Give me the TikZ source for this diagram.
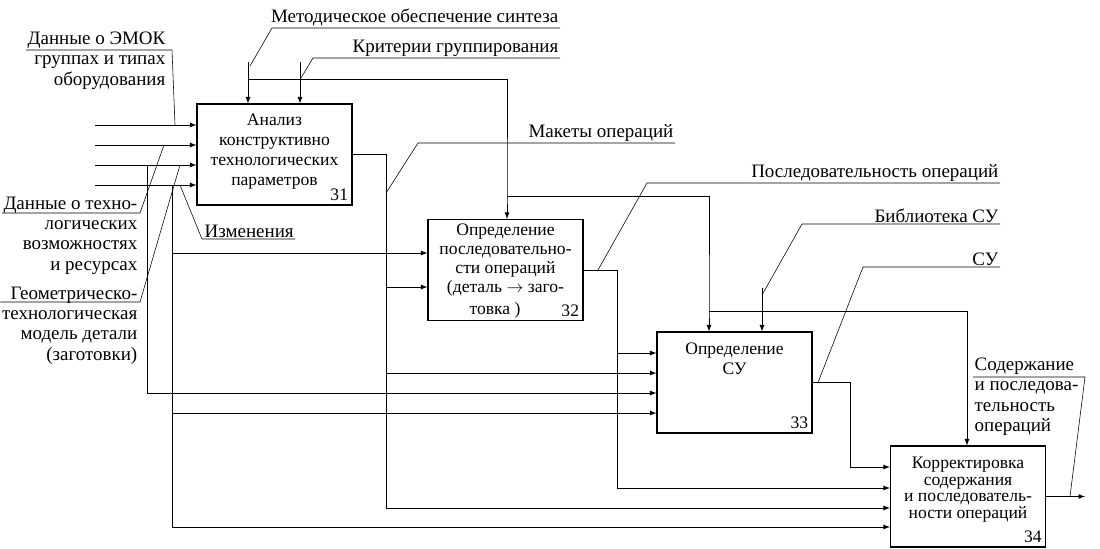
\documentclass[tikz,border=0pt]{standalone}
\usepackage{fontspec}
\setmainfont{Liberation Serif}
\usetikzlibrary{positioning,calc}
\tikzstyle{every node}=[font=\fontsize{13.5}{14.5}\selectfont]
\tikzstyle{func} = [rectangle, draw, thick, minimum width=38.75mm, minimum height=25.25mm, inner sep=0pt]
\tikzstyle{ftext} = [align=center, anchor=north, inner sep=1pt, font=\fontsize{12.5}{14.2}\selectfont]
\tikzstyle{num} = [anchor=south east, inner sep=3pt, font=\fontsize{12.5}{14.2}\selectfont]
\tikzstyle{arrow} = [semithick,->,>=latex]
\tikzstyle{lead} = [thin]
\tikzstyle{lab} = [inner sep=1pt]

\begin{document}
\begin{tikzpicture}[x=0.25mm,y=-0.25mm]
\useasboundingbox (0,0) rectangle (1100,548);

% blocks
\node (b31) [func] at (274.5,154.5) {};
\node (b32) [func] at (505.5,270) {};
\node (b33) [func] at (734.5,382.5) {};
\node (b34) [func] at (968,496.5) {};

\node (t31) [ftext, below=2.2mm of b31.north] {Анализ\\конструктивно\\технологических\\параметров};
\node (t32) [ftext, below=0.8mm of b32.north, font=\fontsize{12.5}{13.6}\selectfont] {Определение\\последовательно-\\сти операций\\(деталь $\rightarrow$ заго-};
\node (t33) [ftext, below=2.5mm of b33.north] {Определение\\СУ};
\node (t34) [ftext, below=2.5mm of b34.north, font=\fontsize{12.5}{11.8}\selectfont] {Корректировка\\содержания\\и последователь-\\ности операций};
\node (n31) [num] at (b31.south east) {31};
\node (n32) [num] at (b32.south east) {32};
\node (n33) [num] at (b33.south east) {33};
\node (n34) [num] at (b34.south east) {34};
\node (t32b) [num, left=8mm of n32.west, anchor=east] {товка )};

% inputs of 31
\coordinate (in1) at (95,125);
\coordinate (in2) at (95,145);
\coordinate (in3) at (95,165);
\coordinate (in4) at (95,185);
\draw[arrow] (in1) -- (in1 -| b31.west);
\draw[arrow] (in2) -- (in2 -| b31.west);
\draw[arrow] (in3) -- (in3 -| b31.west);
\draw[arrow] (in4) -- (in4 -| b31.west);

\coordinate (v3) at (147,165);
\coordinate (v3e) at (147,393);
\draw[arrow] (v3) -- (v3e) -- (v3e -| b33.west);
\coordinate (v4) at (172,185);
\coordinate (v4a) at (172,253);
\coordinate (v4b) at (172,413);
\coordinate (v4e) at (172,527);
\draw[arrow] (v4) -- (v4e) -- (v4e -| b34.west);
\draw[arrow] (v4a) -- (v4a -| b32.west);
\draw[arrow] (v4b) -- (v4b -| b33.west);

% outputs
\coordinate (o31) at (386,508);
\coordinate (o31a) at (386,287);
\coordinate (o31b) at (386,373);
\draw[arrow] (b31.east) -| (o31) -- (o31 -| b34.west);
\draw[arrow] (o31a) -- (o31a -| b32.west);
\draw[arrow] (o31b) -- (o31b -| b33.west);

\coordinate (o32) at (617,488);
\coordinate (o32a) at (617,353);
\draw[arrow] (b32.east) -| (o32) -- (o32 -| b34.west);
\draw[arrow] (o32a) -- (o32a -| b33.west);

\coordinate (o33) at (850,467);
\draw[arrow] (b33.east) -| (o33) -- (o33 -| b34.west);

\coordinate (out) at (1085,496.5);
\draw[arrow] (b34.east) -- (out);

% controls
\coordinate (m0) at (248,62);
\coordinate (m1) at (248,79);
\coordinate (m2) at (507,196);
\coordinate (m3) at (709,311);
\coordinate (m4) at (967,311);
\draw[arrow] (m0) -- (m0 |- b31.north);
\draw[arrow] (m1) -| (m2) -- (m2 |- b32.north);
\draw[arrow] (m2) -| (m3) -- (m3 |- b33.north);
\draw[arrow] (m3) -- (m4) -- (m4 |- b34.north);
\coordinate (k0) at (300,62);
\draw[arrow] (k0) -- (k0 |- b31.north);
\coordinate (bib) at (762,288);
\draw[arrow] (bib) -- (bib |- b33.north);

% labels left
\node (lEmok) [lab, align=right, anchor=north east] at (167,30) {Данные о ЭМОК\\группах и типах\\оборудования};
\coordinate (uEmok) at (172,50);
\coordinate (tEmok) at (175,125);
\draw[lead] (lEmok.west |- uEmok) -- (uEmok) -- (tEmok);

\node (lTech) [lab, align=right, anchor=north east] at (139,195) {Данные о техно-\\логических\\возможностях\\и ресурсах};
\coordinate (uTech) at (140,213);
\coordinate (tTech) at (164,145);
\draw[lead] (lTech.west |- uTech) -- (uTech) -- (tTech);

\node (lGeom) [lab, align=right, anchor=north east] at (139,285) {Геометрическо-\\технологическая\\модель детали\\(заготовки)};
\coordinate (uGeom) at (140,302);
\coordinate (tGeom) at (180,165);
\draw[lead] (lGeom.west |- uGeom) -- (uGeom) -- (tGeom);

\node (lIzm) [lab, anchor=south west] at (203,239) {Изменения};
\coordinate (uIzm) at (202,239);
\coordinate (tIzm) at (180,185);
\draw[lead] (lIzm.south east) -- (uIzm) -- (tIzm);

% labels top
\node (lMet) [lab, anchor=south east] at (560,28) {Методическое обеспечение синтеза};
\coordinate (uMet) at (272,28);
\coordinate (tMet) at (250,66);
\draw[lead] (lMet.south east) -- (uMet) -- (tMet);

\node (lKrit) [lab, anchor=south east] at (560,58) {Критерии группирования};
\coordinate (uKrit) at (313,58);
\coordinate (tKrit) at (301,78);
\draw[lead] (lKrit.south east) -- (uKrit) -- (tKrit);

\node (lMak) [lab, anchor=south east] at (675,143) {Макеты операций};
\coordinate (uMak) at (418,143);
\coordinate (tMak) at (386,193);
\draw[lead] (lMak.south east) -- (uMak) -- (tMak);

\node (lPosl) [lab, anchor=south east] at (1000,183) {Последовательность операций};
\coordinate (uPosl) at (647,183);
\coordinate (tPosl) at (598,270);
\draw[lead] (lPosl.south east) -- (uPosl) -- (tPosl);

\node (lBibl) [lab, anchor=south east] at (1000,224) {Библиотека СУ};
\coordinate (uBibl) at (802,224);
\coordinate (tBibl) at (762,295);
\draw[lead] (lBibl.south east) -- (uBibl) -- (tBibl);

\node (lSU) [lab, anchor=south east] at (1000,267) {СУ};
\coordinate (uSU) at (863,267);
\coordinate (tSU) at (818,382.5);
\draw[lead] (lSU.south east) -- (uSU) -- (tSU);

\node (lSod) [lab, align=left, anchor=north west] at (973,356) {Содержание\\и последова-\\тельность\\операций};
\coordinate (uSod) at (1085,377);
\coordinate (tSod) at (1070,496.5);
\draw[lead] (lSod.west |- uSod) -- (uSod) -- (tSod);

\end{tikzpicture}
\end{document}
